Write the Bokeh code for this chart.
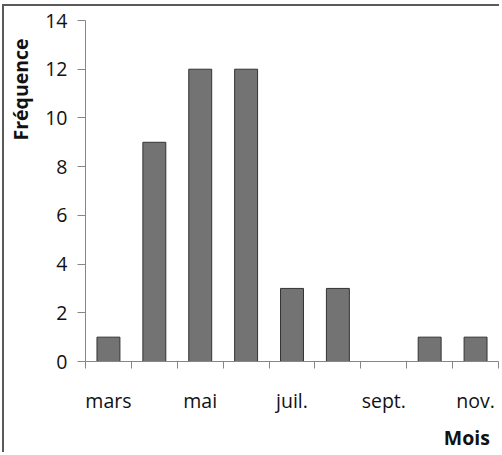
from bokeh.plotting import figure
from bokeh.models import FixedTicker, Range1d, LinearAxis, ColumnDataSource
from bokeh.embed import file_html
from bokeh.resources import INLINE

months = ["mars", "avr.", "mai", "juin", "juil.", "août", "sept.", "oct.", "nov."]
freq = [1, 9, 12, 12, 3, 3, 0, 1, 1]
shown_labels = ["mars", "mai", "juil.", "sept.", "nov."]
y_ticks = [0, 2, 4, 6, 8, 10, 12, 14]
y_title = "Fréquence"
x_title = "Mois"

centers = [i + 0.5 for i in range(len(months))]
src = ColumnDataSource(dict(x=centers, top=freq, month=months))

FONT = "Open Sans"
FS = "19.5px"
AX = "#868686"
TXT = "#111111"

p = figure(width=497, height=448, output_backend="svg", toolbar_location=None,
           x_range=Range1d(0, len(months)), y_range=Range1d(0, 14),
           min_border_left=81, min_border_top=14, min_border_right=3,
           min_border_bottom=93)
p.styles = {"margin-left": "2px", "margin-top": "4px",
            "border-top": "2px solid #5a5a5a", "border-left": "2px solid #5a5a5a"}

p.vbar(x="x", top="top", width=0.5, bottom=0, source=src,
       fill_color="#737373", line_color="#333333", line_width=1)

p.outline_line_color = None
p.xgrid.visible = False
p.ygrid.visible = False

label_pos = [centers[months.index(m)] for m in shown_labels]
p.xaxis.ticker = FixedTicker(ticks=label_pos, minor_ticks=list(range(len(months) + 1)))
p.xaxis.major_label_overrides = {c: m for c, m in zip(label_pos, shown_labels)}
p.xaxis.major_tick_out = 0
p.xaxis.major_tick_in = 0
p.xaxis.minor_tick_out = 7
p.xaxis.minor_tick_in = 0
p.xaxis.minor_tick_line_color = AX
p.xaxis.axis_line_color = AX
p.xaxis.major_label_standoff = 18
p.xaxis.major_label_text_font = FONT
p.xaxis.major_label_text_font_size = FS
p.xaxis.major_label_text_color = TXT

p.yaxis.ticker = FixedTicker(ticks=y_ticks, minor_ticks=[])
p.yaxis.major_tick_out = 8
p.yaxis.major_tick_in = 0
p.yaxis.major_tick_line_color = AX
p.yaxis.axis_line_color = AX
p.yaxis.major_label_standoff = 10
p.yaxis.major_label_text_font = FONT
p.yaxis.major_label_text_font_size = FS
p.yaxis.major_label_text_color = TXT

# axis titles, drawn as single-label axes so they sit at the axis ends
def title_axis(pos, text, standoff, orientation="horizontal"):
    ax = LinearAxis(ticker=FixedTicker(ticks=[pos], minor_ticks=[]),
                    major_label_overrides={pos: text},
                    axis_line_color=None, major_tick_line_color=None,
                    minor_tick_line_color=None, major_tick_out=0, major_tick_in=0,
                    minor_tick_out=0, minor_tick_in=0,
                    major_label_standoff=standoff,
                    major_label_orientation=orientation,
                    major_label_text_font=FONT, major_label_text_font_size=FS,
                    major_label_text_font_style="bold",
                    major_label_text_color=TXT)
    return ax

p.add_layout(title_axis(11.17, y_title, 8, "vertical"), "left")
p.add_layout(title_axis(8.31, x_title, 7), "below")

open("out.html", "w").write(file_html(p, INLINE))
